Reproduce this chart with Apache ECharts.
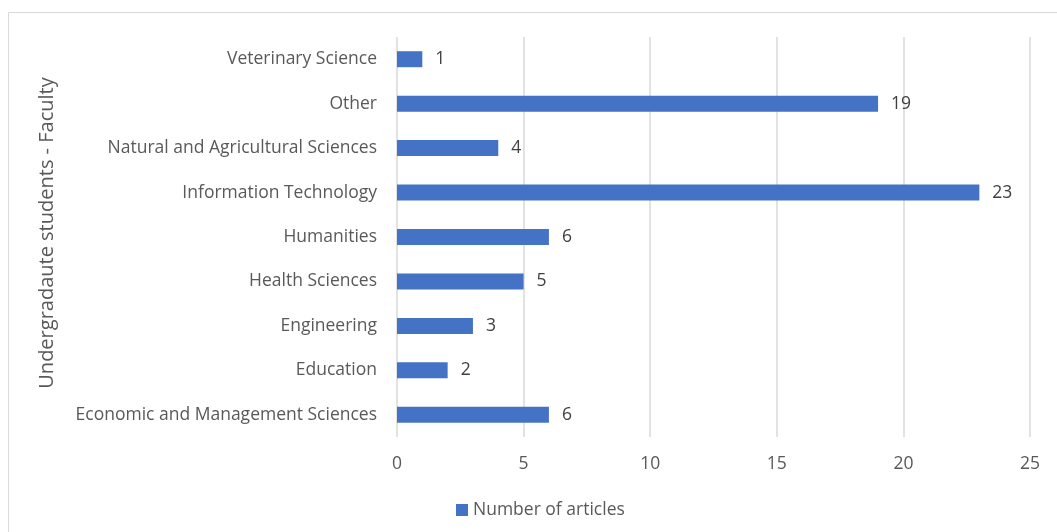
<!DOCTYPE html>
<html><head><meta charset="utf-8">
<script src="https://cdn.jsdelivr.net/npm/echarts@6/dist/echarts.min.js"></script>
<style>html,body{margin:0;padding:0;background:#fff}#c{width:1057px;height:532px}</style>
</head><body><div id="c"></div>
<script>
const categories = ["Economic and Management Sciences","Education","Engineering","Health Sciences","Humanities","Information Technology","Natural and Agricultural Sciences","Other","Veterinary Science"];
const values = [6,2,3,5,6,23,4,19,1];
const seriesName = "Number of articles";
const axisTitle = "Undergradaute students - Faculty";
const xTicks = {min:0,max:25,interval:5};
const FONT = "'Open Sans', sans-serif";
const chart = echarts.init(document.getElementById('c'));
chart.setOption({
  animation:false,
  graphic:[{type:'rect',shape:{x:8.5,y:12.5,width:1100,height:600},style:{fill:'none',stroke:'#d9d9d9',lineWidth:1},silent:true}],
  grid:{left:397,right:27,top:37,bottom:95},
  xAxis:{type:'value',min:xTicks.min,max:xTicks.max,interval:xTicks.interval,
    axisLine:{show:false},axisTick:{show:false},
    splitLine:{lineStyle:{color:'#d9d9d9',width:1.5}},
    axisLabel:{color:'#595959',fontSize:17.5,fontFamily:FONT,margin:18}},
  yAxis:{type:'category',data:categories,axisLine:{show:false},axisTick:{show:false},
    axisLabel:{color:'#595959',fontSize:17.5,fontFamily:FONT,margin:20,padding:[2,0,0,0]},
    name:axisTitle,nameLocation:'middle',nameGap:340,nameRotate:90,
    nameTextStyle:{color:'#595959',fontSize:20,fontFamily:FONT,padding:[0,0,0,8]}},
  legend:{bottom:8,left:451,itemWidth:12,itemHeight:12,icon:'rect',
    textStyle:{color:'#595959',fontSize:17.5,fontFamily:FONT},data:[seriesName]},
  series:[{type:'bar',name:seriesName,data:values,barWidth:16,
    itemStyle:{color:'#4472C4'},
    label:{show:true,position:'right',distance:13,color:'#404040',fontSize:17.5,fontFamily:FONT}}]
});
</script></body></html>
